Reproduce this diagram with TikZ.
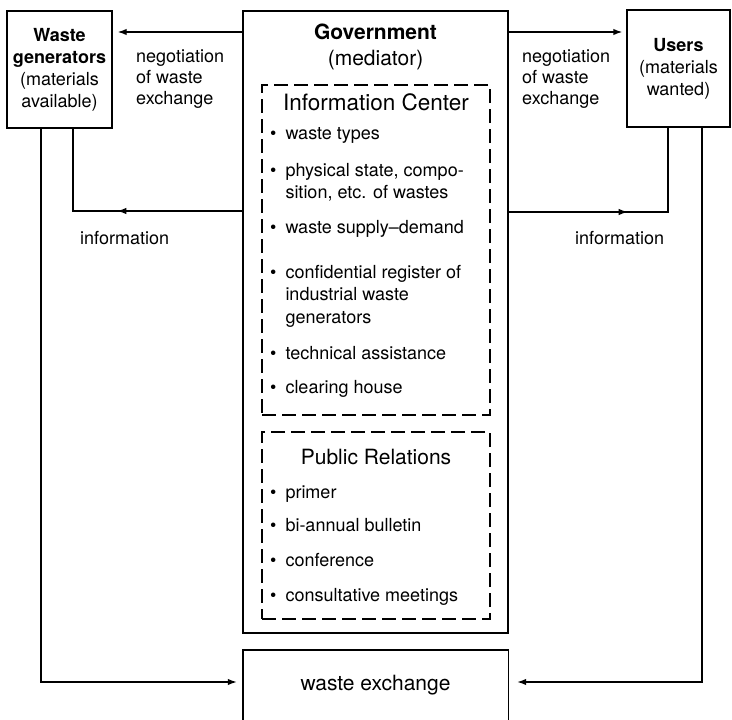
\documentclass[tikz,border=0pt]{standalone}
\usepackage{fontspec}
\setmainfont{TeX Gyre Heros}
\usetikzlibrary{arrows.meta,decorations.markings}
\newcommand{\itm}[1]{\begin{tabular}[t]{@{}l@{\hspace{9pt}}l@{}}\textbullet & #1\end{tabular}}
\newcommand{\mylines}[1]{\begin{tabular}[t]{@{}l@{}}#1\end{tabular}}
\begin{document}
\begin{tikzpicture}[x=1pt,y=-1pt,
  box/.style={draw,line width=1.4pt,inner sep=0pt},
  dbox/.style={draw,line width=1.2pt,dash pattern=on 14pt off 6pt,inner sep=0pt},
  conn/.style={line width=1.4pt},
  tip/.style={-{Latex[length=9pt,width=6.5pt]}},
  body/.style={font=\fontsize{18}{22.5}\selectfont},
  side/.style={font=\fontsize{18}{21.5}\selectfont,anchor=base west,inner sep=0pt},
  head/.style={font=\fontsize{21}{25}\selectfont,inner sep=0pt},
  item/.style={body,anchor=base west,inner sep=0pt},
  midarrow/.style={postaction={decorate},decoration={markings,mark=at position #1 with {\arrow{Latex[length=9pt,width=6.5pt]}}}},
]
\useasboundingbox (0,0) rectangle (732,720);

% boxes
\node[box,minimum width=105pt,minimum height=117pt,align=center,font=\fontsize{18}{22}\selectfont] (gen) at (59.5,69.5)
  {\textbf{Waste}\\\textbf{generators}\\(materials\\available)};
\node[box,minimum width=103pt,minimum height=117pt,align=center,font=\fontsize{18}{22}\selectfont] (users) at (678.5,68.5)
  {\textbf{Users}\\(materials\\wanted)};
\node[box,minimum width=265pt,minimum height=622pt] (gov) at (375.5,322) {};
\node[dbox,minimum width=228pt,minimum height=330pt] (ic) at (376,250) {};
\node[dbox,minimum width=228pt,minimum height=187pt] (pr) at (376,525.5) {};
\node[minimum width=265pt,minimum height=70pt,inner sep=0pt,font=\fontsize{21}{25}\selectfont] (wx) at (375.5,685) {waste exchange};
\draw[line width=1.4pt] (wx.south west) |- (wx.north east) -- (wx.south east);

% government texts
\node[head] (govt) at (375.5,32) {\textbf{Government}};
\node[head] (med) at (375.5,60) {(mediator)};
\node[head,font=\fontsize{22.5}{26}\selectfont] (ict) at (376,102) {Information Center};
\node[head] (prt) at (376,457) {Public Relations};

\node[item] (i1) at (270,139) {\itm{waste types}};
\node[item] (i2) at (270,176) {\itm{physical state, compo-\\ & sition, etc. of wastes}};
\node[item] (i3) at (270,233) {\itm{waste supply--demand}};
\node[item] (i4) at (270,278) {\itm{confidential register of\\ & industrial waste\\ & generators}};
\node[item] (i5) at (270,359) {\itm{technical assistance}};
\node[item] (i6) at (270,393) {\itm{clearing house}};
\node[item] (p1) at (270,498) {\itm{primer}};
\node[item] (p2) at (270,531) {\itm{bi-annual bulletin}};
\node[item] (p3) at (270,566) {\itm{conference}};
\node[item] (p4) at (270,601) {\itm{consultative meetings}};

% side labels
\node[side] (negL) at (136,62) {\mylines{negotiation\\of waste\\exchange}};
\node[side] (negR) at (522,62) {\mylines{negotiation\\of waste\\exchange}};
\node[side] (infL) at (80,244) {information};
\node[side] (infR) at (575,244) {information};

% connectors
\draw[conn,tip,shorten >=5pt] (gov.west |- 0,32) -- (gen.east |- 0,32);
\draw[conn,tip,shorten >=4pt] (gov.east |- 0,32) -- (users.west |- 0,32);
\draw[conn,midarrow=125pt] (gov.west |- 0,211) -| (gen.south -| 73,0);
\draw[conn,midarrow=119pt] (gov.east |- 0,212) -| (users.south -| 668,0);
\draw[conn,tip,shorten >=6pt] (gen.south -| 41,0) |- (wx.west |- 0,682);
\draw[conn,tip,shorten >=9pt] (users.south -| 702,0) |- (wx.east |- 0,682);
\end{tikzpicture}
\end{document}
